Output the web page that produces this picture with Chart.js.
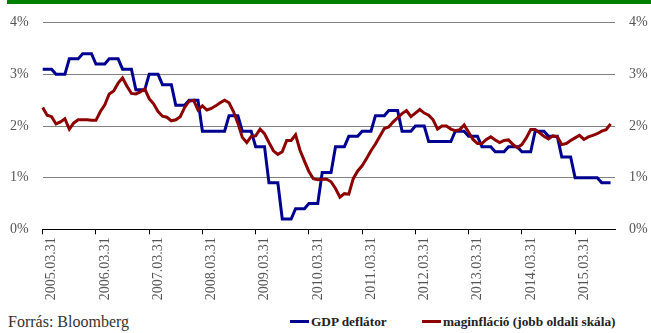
<!DOCTYPE html>
<html lang="hu">
<head>
  <meta charset="UTF-8">
  <title>GDP deflátor és maginfláció</title>
  <script src="https://cdn.jsdelivr.net/npm/chart.js"></script>
  <style>
    body { margin: 0; background: #fff; }
    .wrap { position: relative; width: 651px; height: 333px; overflow: hidden; }
    .topbar { position: absolute; left: 7px; top: 0; width: 644px; height: 4px; background: #008000; }
    #chartBox { position: absolute; left: 0; top: 0; width: 651px; height: 305px; }
    .source { position: absolute; left: 8px; top: 314px; font: 16px/16px "Liberation Serif", serif; color: #333; }
    .leg { position: absolute; top: 315px; font: bold 13.3px/13px "Liberation Serif", serif; color: #222; white-space: nowrap; }
    .leg span { display: inline-block; width: 19px; height: 3px; vertical-align: 3px; margin-right: 2px; }
  </style>
</head>
<body>
  <div class="wrap">
    <div class="topbar"></div>
    <div id="chartBox"><canvas id="c" width="651" height="305"></canvas></div>
    <div class="source">Forrás: Bloomberg</div>
    <div class="leg" style="left:290px;"><span style="background:#000090;"></span>GDP deflátor</div>
    <div class="leg" style="left:422px;"><span style="background:#8c0000;"></span>maginfláció (jobb oldali skála)</div>
  </div>

  <script>
    // monthly categories, 2005.03 .. 2015.12 (last one empty)
    const startYear = 2005, startMonth = 3, monthCount = 130;
    const months = [];
    for (let i = 0; i < monthCount; i++) {
      const m = startMonth - 1 + i;
      const y = startYear + Math.floor(m / 12);
      const mm = (m % 12) + 1;
      months.push(y + '.' + String(mm).padStart(2, '0'));
    }

    const tickLabels = ['2005.03.31', '2006.03.31', '2007.03.31', '2008.03.31', '2009.03.31',
      '2010.03.31', '2011.03.31', '2012.03.31', '2013.03.31', '2014.03.31', '2015.03.31'];

    // GDP deflátor (%), left axis
    const gdpDeflator = [
      3.1, 3.1, 3.1, 3.0, 3.0, 3.0, 3.3, 3.3, 3.3, 3.4, 3.4, 3.4,
      3.2, 3.2, 3.2, 3.3, 3.3, 3.3, 3.1, 3.1, 3.1, 2.7, 2.7, 2.7,
      3.0, 3.0, 3.0, 2.8, 2.8, 2.8, 2.4, 2.4, 2.4, 2.5, 2.5, 2.5,
      1.9, 1.9, 1.9, 1.9, 1.9, 1.9, 2.2, 2.2, 2.2, 1.9, 1.9, 1.9,
      1.6, 1.6, 1.6, 0.9, 0.9, 0.9, 0.2, 0.2, 0.2, 0.4, 0.4, 0.4,
      0.5, 0.5, 0.5, 1.1, 1.1, 1.1, 1.6, 1.6, 1.6, 1.8, 1.8, 1.8,
      1.9, 1.9, 1.9, 2.2, 2.2, 2.2, 2.3, 2.3, 2.3, 1.9, 1.9, 1.9,
      2.0, 2.0, 2.0, 1.7, 1.7, 1.7, 1.7, 1.7, 1.7, 1.9, 1.9, 1.9,
      1.8, 1.8, 1.8, 1.6, 1.6, 1.6, 1.5, 1.5, 1.5, 1.6, 1.6, 1.6,
      1.5, 1.5, 1.5, 1.9, 1.9, 1.9, 1.8, 1.8, 1.8, 1.4, 1.4, 1.4,
      1.0, 1.0, 1.0, 1.0, 1.0, 1.0, 0.9, 0.9, 0.9, null
    ];

    // maginfláció (%), right axis
    const coreInflation = [
      2.36, 2.21, 2.18, 2.04, 2.08, 2.14, 1.94, 2.06, 2.12, 2.12, 2.12, 2.11,
      2.11, 2.28, 2.41, 2.62, 2.68, 2.83, 2.93, 2.77, 2.63, 2.62, 2.66, 2.72,
      2.53, 2.43, 2.28, 2.19, 2.17, 2.10, 2.12, 2.18, 2.36, 2.48, 2.50, 2.31,
      2.39, 2.31, 2.34, 2.39, 2.45, 2.50, 2.45, 2.28, 2.05, 1.78, 1.68, 1.80,
      1.81, 1.94, 1.85, 1.68, 1.52, 1.45, 1.50, 1.72, 1.72, 1.83, 1.53, 1.32,
      1.12, 0.98, 0.96, 0.97, 0.97, 0.92, 0.79, 0.62, 0.69, 0.68, 0.98, 1.13,
      1.23, 1.37, 1.52, 1.65, 1.80, 1.95, 1.98, 2.08, 2.16, 2.24, 2.30, 2.18,
      2.25, 2.32, 2.25, 2.21, 2.12, 1.94, 2.00, 2.00, 1.94, 1.91, 1.93, 2.02,
      1.88, 1.74, 1.66, 1.66, 1.74, 1.79, 1.73, 1.68, 1.72, 1.73, 1.64, 1.58,
      1.64, 1.77, 1.93, 1.93, 1.87, 1.80, 1.75, 1.81, 1.79, 1.64, 1.66, 1.72,
      1.77, 1.82, 1.74, 1.79, 1.82, 1.85, 1.90, 1.93, 2.04, null
    ];

    const tickFont = { family: 'Liberation Serif', size: 14 };
    const pct = v => v + '%';

    new Chart(document.getElementById('c').getContext('2d'), {
      type: 'line',
      data: {
        labels: months,
        datasets: [
          {
            label: 'maginfláció (jobb oldali skála)',
            data: coreInflation,
            yAxisID: 'y1',
            borderColor: '#8c0000',
            borderWidth: 3,
            pointRadius: 0,
            tension: 0
          },
          {
            label: 'GDP deflátor',
            data: gdpDeflator,
            yAxisID: 'y',
            borderColor: '#000090',
            borderWidth: 3,
            pointRadius: 0,
            tension: 0
          }
        ]
      },
      options: {
        responsive: false,
        animation: false,
        layout: { padding: { top: 22.7, left: 0, right: 0, bottom: 0 } },
        plugins: { legend: { display: false }, tooltip: { enabled: false } },
        scales: {
          x: {
            offset: false,
            afterBuildTicks: axis => { axis.ticks = axis.ticks.filter(t => t.value % 12 === 0); },
            afterFit: axis => { axis.height = 305 - 229.3; },
            border: { color: '#000', width: 1 },
            grid: { drawOnChartArea: false, drawTicks: true, tickLength: 5, color: '#000' },
            ticks: {
              autoSkip: false,
              minRotation: 90,
              maxRotation: 90,
              padding: 3,
              labelOffset: 9,
              font: tickFont,
              color: '#555',
              callback: value => tickLabels[value / 12]
            }
          },
          y: {
            position: 'left',
            min: 0,
            max: 4,
            afterFit: axis => { axis.width = 42.7; },
            border: { display: false },
            grid: {
              drawTicks: false,
              color: ctx => ctx.tick.value === 0 ? 'rgba(0,0,0,0)' : '#808080'
            },
            ticks: { stepSize: 1, padding: 14, font: tickFont, color: '#555', callback: pct }
          },
          y1: {
            position: 'right',
            min: 0,
            max: 4,
            afterFit: axis => { axis.width = 36; },
            border: { display: false },
            grid: { drawOnChartArea: false, drawTicks: false },
            ticks: { stepSize: 1, padding: 14, font: tickFont, color: '#555', callback: pct }
          }
        }
      }
    });
  </script>
</body>
</html>
